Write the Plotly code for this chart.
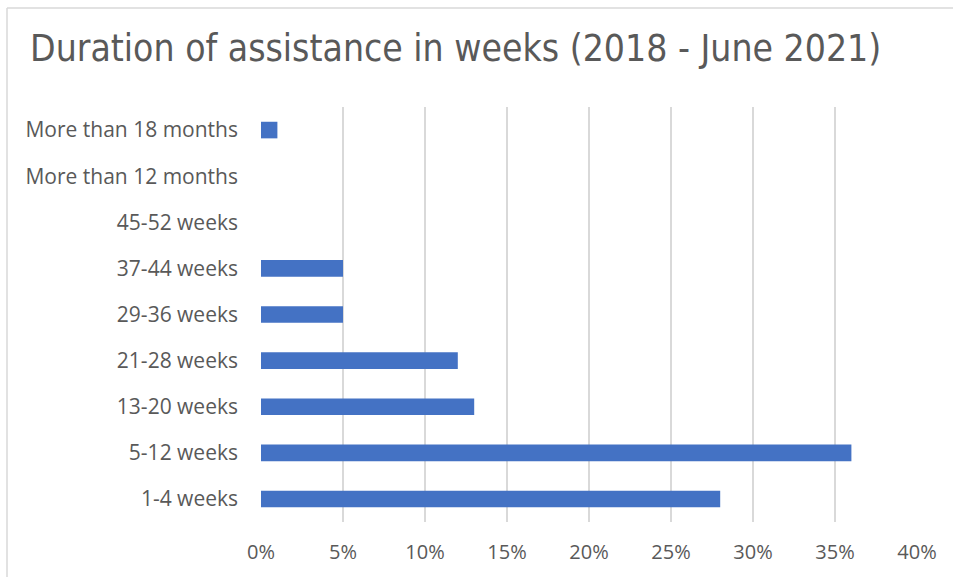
import plotly.graph_objects as go

# Share of cases by duration of assistance
categories = [
    "1-4 weeks",
    "5-12 weeks",
    "13-20 weeks",
    "21-28 weeks",
    "29-36 weeks",
    "37-44 weeks",
    "45-52 weeks",
    "More than 12 months",
    "More than 18 months",
]
shares = [0.28, 0.36, 0.13, 0.12, 0.05, 0.05, 0.0, 0.0, 0.01]
tick_values = [0, 0.05, 0.10, 0.15, 0.20, 0.25, 0.30, 0.35, 0.40]
tick_labels = ["0%", "5%", "10%", "15%", "20%", "25%", "30%", "35%", "40%"]

W, H = 953, 577
ML, MR, MT, MB = 261, 36, 107, 55
PW, PH = W - ML - MR, H - MT - MB

def px_x(x):
    return (x - ML) / PW

def px_y(y):
    return 1 - (y - MT) / PH

fig = go.Figure(
    go.Bar(
        x=shares,
        y=categories,
        orientation="h",
        marker=dict(color="#4472C4", line=dict(width=0)),
        width=0.36,
        hoverinfo="x+y",
    )
)

fig.update_layout(
    width=W,
    height=H,
    margin=dict(l=ML, r=MR, t=MT, b=MB),
    paper_bgcolor="white",
    plot_bgcolor="white",
    showlegend=False,
    title=dict(
        text="Duration of assistance in weeks (2018 - June 2021)",
        x=30 / W,
        xanchor="left",
        y=1 - 48 / H,
        yanchor="middle",
        font=dict(family="DejaVu Sans Condensed, Liberation Sans Narrow, sans-serif",
                  size=37, color="#595959"),
    ),
    xaxis=dict(
        range=[0, 0.40],
        tickvals=tick_values,
        ticktext=tick_labels,
        showgrid=True,
        gridcolor="#d9d9d9",
        gridwidth=1.5,
        zeroline=False,
        showline=False,
        ticks="",
        tickfont=dict(family="Open Sans, sans-serif", size=20, color="#595959"),
        ticklabelstandoff=16,
        fixedrange=True,
    ),
    yaxis=dict(
        categoryorder="array",
        categoryarray=categories,
        showgrid=False,
        zeroline=False,
        showline=False,
        ticks="",
        tickfont=dict(family="Open Sans, sans-serif", size=21, color="#595959"),
        ticklabelstandoff=22,
        fixedrange=True,
    ),
    shapes=[
        # chart frame: top and left edges
        dict(type="line", xref="paper", yref="paper",
             x0=px_x(7), x1=px_x(W + 5), y0=px_y(8), y1=px_y(8),
             line=dict(color="#d9d9d9", width=1.5)),
        dict(type="line", xref="paper", yref="paper",
             x0=px_x(7), x1=px_x(7), y0=px_y(8), y1=px_y(H + 5),
             line=dict(color="#d9d9d9", width=1.5)),
    ],
)

fig.write_html("out.html")
